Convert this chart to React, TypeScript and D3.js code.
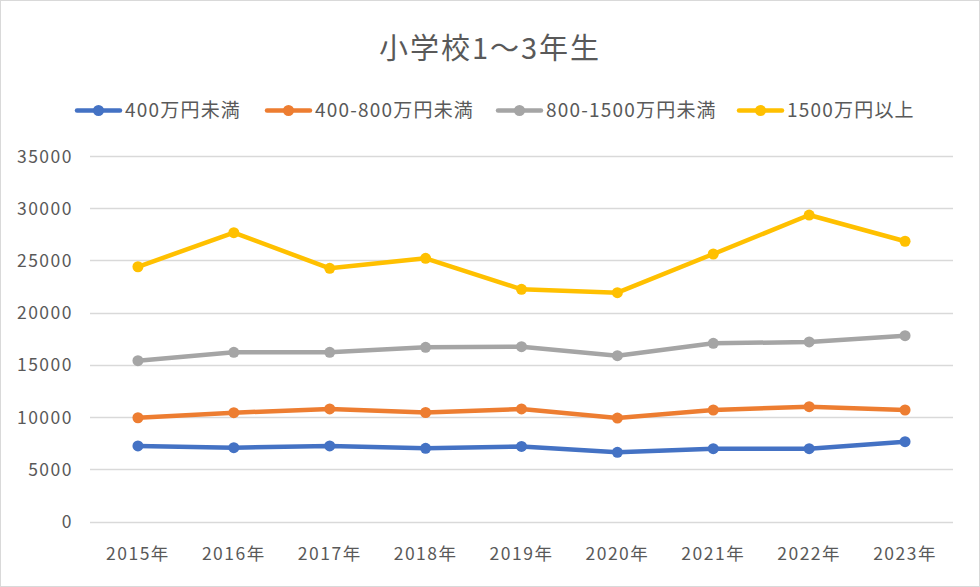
import * as React from "react"
import * as d3 from "d3"

const years = ["2015年", "2016年", "2017年", "2018年", "2019年", "2020年", "2021年", "2022年", "2023年"]
const seriesNames = ["400万円未満", "400-800万円未満", "800-1500万円未満", "1500万円以上"]
const under400 = [7250, 7080, 7250, 7020, 7200, 6640, 6990, 6990, 7660]
const from400to800 = [9950, 10430, 10790, 10450, 10790, 9920, 10690, 11010, 10690]
const from800to1500 = [15410, 16210, 16210, 16690, 16750, 15890, 17070, 17200, 17800]
const over1500 = [24400, 27660, 24250, 25210, 22240, 21920, 25620, 29350, 26840]
const yTicks = [0, 5000, 10000, 15000, 20000, 25000, 30000, 35000]
const colors = ["#4472C4", "#ED7D31", "#A5A5A5", "#FFC000"]

const W = 980
const H = 587
const font = "'Noto Sans CJK JP', 'Noto Sans', sans-serif"

export default function App() {
    const svgRef = React.useRef<SVGSVGElement>(null)

    React.useEffect(() => {
        if (!svgRef.current) return
        const svg = d3.select(svgRef.current)
        svg.selectAll("*").remove()

        const values = [under400, from400to800, from800to1500, over1500]

        const x = d3.scaleBand().domain(years).range([90, 953])
        const y = d3.scaleLinear().domain([0, 35000]).range([521.7, 156])

        // background + frame
        svg.append("rect")
            .attr("x", 0.5).attr("y", 0.5)
            .attr("width", W - 1).attr("height", H - 1)
            .attr("fill", "#fff")
            .attr("stroke", "#d9d9d9")

        // title
        svg.append("text")
            .attr("x", 490).attr("y", 59)
            .attr("text-anchor", "middle")
            .style("font-family", font)
            .style("font-size", "29px")
            .style("letter-spacing", "2px")
            .style("fill", "#595959")
            .text("小学校1～3年生")

        // gridlines
        svg.append("g")
            .selectAll("line")
            .data(yTicks)
            .join("line")
            .attr("x1", 90).attr("x2", 953)
            .attr("y1", d => Math.round(y(d)) + 0.5)
            .attr("y2", d => Math.round(y(d)) + 0.5)
            .attr("stroke", "#d9d9d9")
            .attr("stroke-width", 1.3)

        // y labels
        svg.append("g")
            .selectAll("text")
            .data(yTicks)
            .join("text")
            .attr("x", 73)
            .attr("y", d => y(d) + 6.5)
            .attr("text-anchor", "end")
            .style("font-family", font)
            .style("font-size", "17.5px")
            .style("letter-spacing", "1.5px")
            .style("fill", "#595959")
            .text(d => String(d))

        // x labels
        svg.append("g")
            .selectAll("text")
            .data(years)
            .join("text")
            .attr("x", d => x(d)! + x.bandwidth() / 2)
            .attr("y", 560)
            .attr("text-anchor", "middle")
            .style("font-family", font)
            .style("font-size", "17.5px")
            .style("letter-spacing", "1.5px")
            .style("fill", "#595959")
            .text(d => d)

        // lines
        const line = d3.line<number>()
            .x((_, i) => x(years[i])! + x.bandwidth() / 2)
            .y(d => y(d))

        values.forEach((vals, si) => {
            const g = svg.append("g")
            g.append("path")
                .datum(vals)
                .attr("d", line)
                .attr("fill", "none")
                .attr("stroke", colors[si])
                .attr("stroke-width", 4.5)
                .attr("stroke-linejoin", "round")
                .attr("stroke-linecap", "round")
            g.selectAll("circle")
                .data(vals)
                .join("circle")
                .attr("cx", (_, i) => x(years[i])! + x.bandwidth() / 2)
                .attr("cy", d => y(d))
                .attr("r", 5.5)
                .attr("fill", colors[si])
        })

        // legend
        const legendX = [75, 265, 496, 737]
        const legend = svg.append("g")
        seriesNames.forEach((name, i) => {
            const lg = legend.append("g").attr("transform", `translate(${legendX[i]},110.5)`)
            lg.append("line")
                .attr("x1", 2).attr("x2", 45)
                .attr("y1", 0).attr("y2", 0)
                .attr("stroke", colors[i])
                .attr("stroke-width", 4.5)
                .attr("stroke-linecap", "round")
            lg.append("circle")
                .attr("cx", 23.5).attr("cy", 0).attr("r", 5.5)
                .attr("fill", colors[i])
            lg.append("text")
                .attr("x", 50).attr("y", 6.5)
                .style("font-family", font)
                .style("font-size", "19px")
                .style("letter-spacing", "1.2px")
                .style("fill", "#595959")
                .text(name)
        })
    }, [])

    return (
        <div style={{ position: "fixed", left: 0, top: 0, width: W, height: H }}>
            <svg ref={svgRef} width={W} height={H} viewBox={`0 0 ${W} ${H}`} style={{ display: "block" }} />
        </div>
    )
}
